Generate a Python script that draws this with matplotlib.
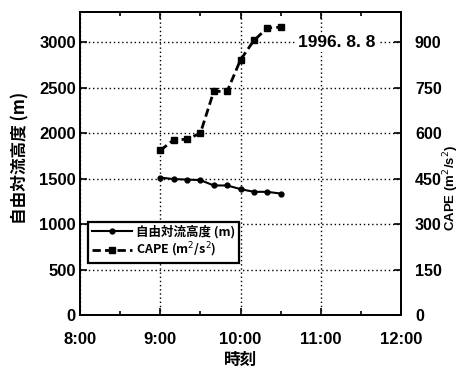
import matplotlib
matplotlib.use("Agg")
import matplotlib.pyplot as plt
from matplotlib.ticker import MultipleLocator, FixedLocator

times = ["9:00", "9:10", "9:20", "9:30", "9:40", "9:50", "10:00", "10:10", "10:20", "10:30"]
lfc = [1512, 1495, 1490, 1484, 1425, 1425, 1385, 1355, 1355, 1336]
cape = [543, 578, 580, 600, 738, 738, 842, 906, 947, 950]
xticklabels = ["8:00", "9:00", "10:00", "11:00", "12:00"]

def to_hours(s):
    h, m = s.split(":")
    return int(h) + int(m) / 60.0

x = [to_hours(t) for t in times]

num_font = "Liberation Sans"
jp = ["Noto Sans CJK JP", "DejaVu Sans"]

fig = plt.figure(figsize=(4.64, 3.68), dpi=100)
ax = fig.add_axes([80/464, 53/368, 321/464, 303/368])
ax2 = ax.twinx()

ax.set_xlim(8, 12)
ax.set_ylim(0, 3000/0.9)
ax2.set_ylim(0, 1000)

ax.xaxis.set_major_locator(FixedLocator([8, 9, 10, 11, 12]))
ax.set_xticklabels(xticklabels)
ax.xaxis.set_minor_locator(MultipleLocator(0.5))
ax.yaxis.set_major_locator(FixedLocator([0, 500, 1000, 1500, 2000, 2500, 3000]))
ax2.yaxis.set_major_locator(FixedLocator([0, 150, 300, 450, 600, 750, 900]))

ax.grid(True, which="major", color="black", linestyle=(0, (1, 2)), linewidth=1.0)
ax.tick_params(which="both", direction="in", top=True, labelsize=12, width=1.2)
ax.tick_params(which="major", length=5)
ax.tick_params(which="minor", length=3)
ax.tick_params(axis="x", which="major", pad=12)
ax.tick_params(axis="y", which="major", pad=3)
ax2.tick_params(direction="in", labelsize=11.5, length=5, width=1.2, pad=10)
for a in (ax, ax2):
    for lab in a.get_xticklabels() + a.get_yticklabels():
        lab.set_fontfamily(num_font)
        lab.set_fontweight("bold")
    for sp in a.spines.values():
        sp.set_linewidth(1.3)

l1, = ax.plot(x, lfc, color="black", linewidth=1.5, marker="o", markersize=3.5)
l2, = ax2.plot(x, cape, color="black", linewidth=2.0, linestyle=(0, (3, 1.5)),
               marker="s", markersize=4.5)

ax.set_xlabel("時刻", fontfamily=jp, fontweight="bold", fontsize=12, va="center")
ax.xaxis.set_label_coords(0.5, -0.15)
ax.set_ylabel("自由対流高度 (m)", fontfamily=jp, fontweight="bold", fontsize=12, va="center")
ax.yaxis.set_label_coords(-0.185, 0.52)
ax2.set_ylabel("CAPE (m$^2$/s$^2$)", fontfamily=num_font, fontweight="bold", fontsize=9.5, va="center")
ax2.yaxis.set_label_coords(1.155, 0.42)

ax.text(11.2, 3000, "1996. 8. 8", ha="center", va="center", fontsize=12.5,
        fontweight="bold", fontfamily=num_font,
        bbox=dict(facecolor="white", edgecolor="none", pad=1.5), zorder=5)

leg = ax.legend([l1, l2], ["自由対流高度 (m)", "CAPE (m$^2$/s$^2$)"],
                loc="lower left", bbox_to_anchor=(0.025, 0.172),
                prop={"family": jp, "weight": "bold", "size": 9},
                frameon=True, fancybox=False, edgecolor="black", framealpha=1,
                handlelength=3.2, handletextpad=0.3, borderpad=0.3,
                labelspacing=0.15, borderaxespad=0)
leg.get_frame().set_linewidth(1.6)
leg.set_zorder(10)

fig.savefig("out.png", dpi=100)
